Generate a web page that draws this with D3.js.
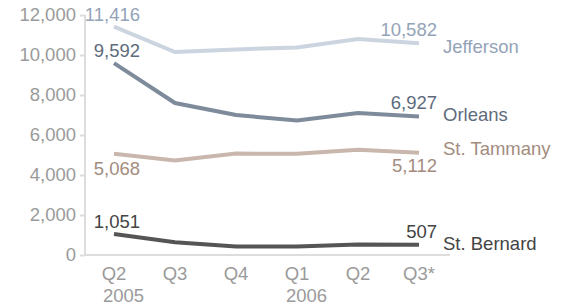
<!DOCTYPE html>
<html>
<head>
<meta charset="utf-8">
<script src="https://cdn.jsdelivr.net/npm/d3@7"></script>
<style>
  body { margin: 0; background: #fff; }
  svg { font-family: "Liberation Sans", Arial, sans-serif; }
</style>
</head>
<body>
<svg id="chart" width="569" height="308"></svg>
<script>
// quarters on the x axis
var quarters = ["Q2", "Q3", "Q4", "Q1", "Q2", "Q3*"];
var years = ["2005", "", "", "2006", "", ""];
var yTicks = [0, 2000, 4000, 6000, 8000, 10000, 12000];

var jefferson = [11416, 10150, 10280, 10380, 10800, 10582];
var orleans = [9592, 7600, 7000, 6720, 7100, 6927];
var tammany = [5068, 4720, 5070, 5060, 5260, 5112];
var bernard = [1051, 640, 430, 430, 530, 507];

var series = [
  { name: "Jefferson", values: jefferson, line: "#cbd4df", text: "#94a3b8", first: "above", last: "above", nameDy: 10 },
  { name: "Orleans", values: orleans, line: "#7e8b9a", text: "#5e6b7c", first: "above", last: "above", nameDy: 5 },
  { name: "St. Tammany", values: tammany, line: "#c9b6ac", text: "#a38c7e", first: "below", last: "below", nameDy: 2 },
  { name: "St. Bernard", values: bernard, line: "#555555", text: "#444444", first: "above", last: "above", nameDy: 5 }
];

var svg = d3.select("#chart");
var fs = 18.5;

var x = d3.scalePoint()
  .domain(d3.range(quarters.length))
  .range([114, 419]);

var y = d3.scaleLinear()
  .domain([0, 12000])
  .range([255, 15]);

// y axis
var yAxis = svg.append("g")
  .attr("transform", "translate(85,0)")
  .call(d3.axisLeft(y).tickValues(yTicks).tickSize(5).tickPadding(4).tickFormat(d3.format(",")));
yAxis.select(".domain").attr("stroke", "#dddddd").attr("stroke-width", 2)
  .attr("d", "M0,15V255");
yAxis.selectAll(".tick line").attr("stroke", "#dddddd").attr("stroke-width", 2);
yAxis.selectAll(".tick text").attr("fill", "#9a9a9a").style("font-size", fs + "px")
  .attr("font-family", "Liberation Sans, Arial, sans-serif");

// x axis baseline
svg.append("line")
  .attr("x1", 85).attr("x2", 450)
  .attr("y1", 255).attr("y2", 255)
  .attr("stroke", "#dddddd").attr("stroke-width", 2);

// x labels
svg.append("g").selectAll("text")
  .data(quarters)
  .join("text")
  .attr("x", (d, i) => x(i))
  .attr("y", 280)
  .attr("text-anchor", "middle")
  .attr("fill", "#9a9a9a")
  .style("font-size", fs + "px")
  .text(d => d);

// years sit under the left edge of their quarter label
svg.append("g").selectAll("text")
  .data(years)
  .join("text")
  .attr("x", (d, i) => x(i) - 11)
  .attr("y", 302)
  .attr("fill", "#9a9a9a")
  .style("font-size", fs + "px")
  .text(d => d);

var line = d3.line()
  .x((d, i) => x(i))
  .y(d => y(d));

var fmt = d3.format(",");
var last = quarters.length - 1;

series.forEach(function (s) {
  svg.append("path")
    .datum(s.values)
    .attr("d", line)
    .attr("fill", "none")
    .attr("stroke", s.line)
    .attr("stroke-width", 4);

  // first value
  svg.append("text")
    .attr("x", x(0) + 26)
    .attr("y", s.first == "above" ? y(s.values[0]) - 6 : y(s.values[0]) + 21)
    .attr("text-anchor", "end")
    .attr("fill", s.text)
    .style("font-size", fs + "px")
    .text(fmt(s.values[0]));

  // last value
  svg.append("text")
    .attr("x", x(last) + 18)
    .attr("y", s.last == "above" ? y(s.values[last]) - 7 : y(s.values[last]) + 19)
    .attr("text-anchor", "end")
    .attr("fill", s.text)
    .style("font-size", fs + "px")
    .text(fmt(s.values[last]));

  // series name
  svg.append("text")
    .attr("x", 443)
    .attr("y", y(s.values[last]) + s.nameDy)
    .attr("fill", s.text)
    .style("font-size", fs + "px")
    .text(s.name);
});
</script>
</body>
</html>
